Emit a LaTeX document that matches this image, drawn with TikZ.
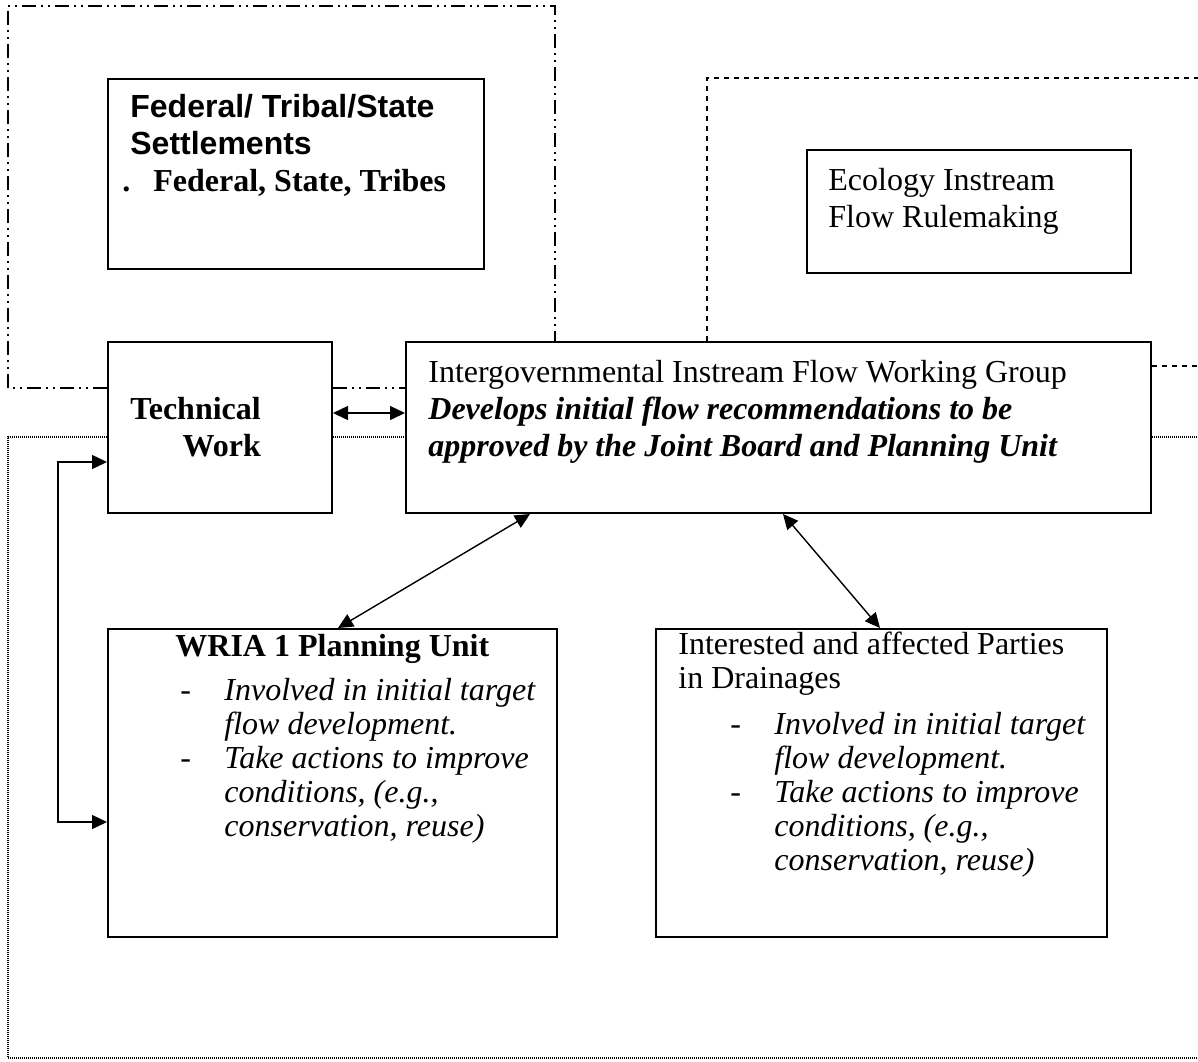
\documentclass[tikz,border=0pt]{standalone}
\usepackage{fontspec}
\setmainfont{Liberation Serif}
\setsansfont{Liberation Sans}
\usetikzlibrary{arrows.meta,positioning}
\begin{document}
\begin{tikzpicture}[x=0.5pt,y=-0.5pt,
  box/.style={draw,line width=1pt,inner sep=0pt,anchor=north west},
  txt/.style={inner sep=0pt,anchor=north west,align=left,font=\fontsize{16}{18.5}\selectfont},
  lst/.style={txt,font=\fontsize{16}{17}\selectfont},
  dashdotdot/.style={line width=.7pt,dash pattern=on 7pt off 2.5pt on 1pt off 2.5pt on 1pt off 2.5pt},
  dashframe/.style={line width=.6pt,dash pattern=on 2.5pt off 2.5pt},
  dotframe/.style={line width=.8pt,dash pattern=on .5pt off .5pt},
  dbl/.style={line width=.7pt,{Triangle[length=7.5pt,width=7pt]}-{Triangle[length=7.5pt,width=7pt]}}]
\useasboundingbox (0,0) rectangle (1198,1061);
\def\bx#1#2#3#4#5{\node[box,minimum width=#4pt,minimum height=#5pt] (#1) at (#2,#3) {};}
\def\itm#1{\makebox[22pt][l]{-}\textit{#1}}
\def\cnt#1{\hspace*{22pt}\textit{#1}}
% boxes
\bx{fed}{107}{78}{188}{95}
\bx{eco}{806}{149}{162}{61.5}
\bx{tech}{107}{341}{112}{85.5}
\bx{igwg}{405}{341}{372.5}{85.5}
\bx{wria}{107}{628}{224.5}{154}
\bx{party}{655}{628}{225.5}{154}
% texts
\node[txt] (fedtxt) at ([shift={(15,13.6)}]fed.north west) {\strut\hspace*{4pt}{\sffamily\bfseries Federal/ Tribal/State}\\\hspace*{4pt}{\sffamily\bfseries Settlements}\\{\bfseries .\hspace{11.5pt}Federal, State, Tribes}};
\node[txt] (ecotxt) at ([shift={(22,15)}]eco.north west) {\strut Ecology Instream\\Flow Rulemaking};
\node[txt] (igwgtxt) at ([shift={(23,15)}]igwg.north west) {\strut Intergovernmental Instream Flow Working Group\\{\bfseries\itshape Develops initial flow recommendations to be}\\{\bfseries\itshape approved by the Joint Board and Planning Unit}};
\node[txt,align=right] (techtxt) at ([shift={(23,52)}]tech.north west) {\strut\bfseries Technical\\\bfseries Work};
\node[txt] (wriatitle) at ([shift={(68,2)}]wria.north west) {\strut\bfseries WRIA 1 Planning Unit};
\node[lst] (wrialist) at ([shift={(73,48)}]wria.north west) {\strut\itm{Involved in initial target}\\\cnt{flow development.}\\\itm{Take actions to improve}\\\cnt{conditions, (e.g.,}\\\cnt{conservation, reuse)}};
\node[lst] (partytitle) at ([shift={(23,2)}]party.north west) {\strut Interested and affected Parties\\in Drainages};
\node[lst] (partylist) at ([shift={(75,82)}]party.north west) {\strut\itm{Involved in initial target}\\\cnt{flow development.}\\\itm{Take actions to improve}\\\cnt{conditions, (e.g.,}\\\cnt{conservation, reuse)}};
% frames
\draw[dashdotdot] (tech.west |- 0,388) -- (8,388) -- (8,6) -- (555,6) -- (igwg.north -| 555,0);
\draw[dashdotdot] (tech.east |- 0,388) -- (igwg.west |- 0,388);
\draw[dashframe] (igwg.north -| 707,0) -- (707,78) -- (1198,78);
\draw[dashframe] (igwg.east |- 0,366) -- (1198,366);
\draw[dotframe] (tech.west |- 0,437) -- (8,437) -- (8,1058) -- (1198,1058);
\draw[dotframe] (tech.east |- 0,437) -- (igwg.west |- 0,437);
\draw[dotframe] (igwg.east |- 0,437) -- (1198,437);
% arrows
\draw[dbl] ([yshift=7.25pt]tech.east) -- ([yshift=7.25pt]igwg.west);
\draw[dbl] ([xshift=62.5pt]igwg.south west) -- ([xshift=115.5pt]wria.north west);
\draw[dbl] ([xshift=189pt]igwg.south west) -- ([xshift=112.5pt]party.north west);
\draw[dbl] ([yshift=-17.25pt]tech.west) -- ++(-49,0) |- ([yshift=-19.5pt]wria.west);
\end{tikzpicture}
\end{document}
